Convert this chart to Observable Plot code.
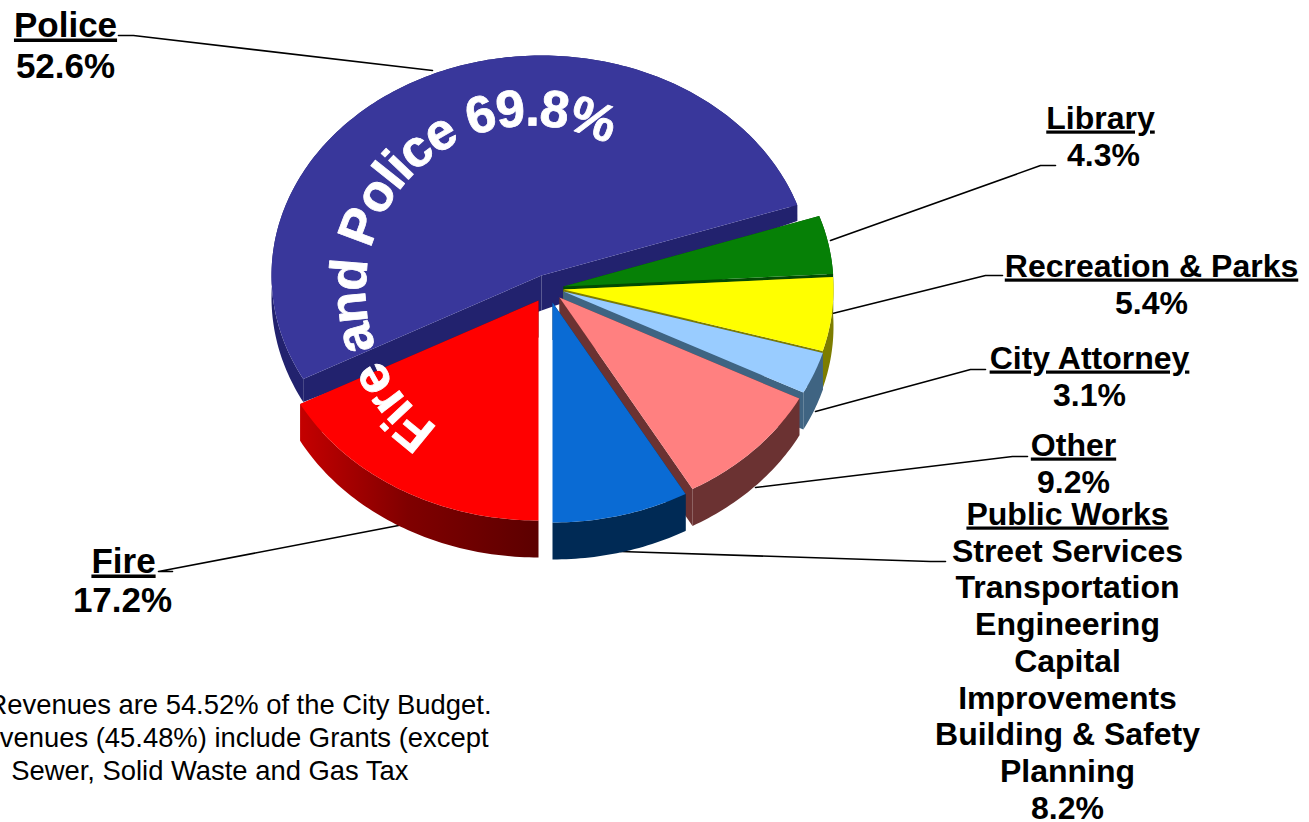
<!DOCTYPE html>
<html>
<head>
<meta charset="utf-8">
<script src="https://cdn.jsdelivr.net/npm/d3@7"></script>
<script src="https://cdn.jsdelivr.net/npm/@observablehq/plot@0.6"></script>
<style>
html,body{margin:0;padding:0;background:#fff;overflow:hidden}
svg{display:block}
</style>
</head>
<body>
<script>
// ---- data, clockwise, starting at the Public Works / Fire boundary
const sliceNames  = ["Fire","Police","Library","Recreation & Parks","City Attorney","Other","Public Works"];
const sliceValues = [17.2,52.6,4.3,5.4,3.1,9.2,8.2];
const sliceColors = ["#ff0000","#39379b","#068006","#ffff00","#99ccff","#ff8080","#0a6bd4"];
const wallColors  = ["url(#redWall)","#22226e","#034a03","#7d7d00","#3f6482","#6b3232","#002a55"];

const headings  = ["Police","Library","Recreation & Parks","City Attorney","Other","Public Works","Fire"];
const shares    = ["52.6%","4.3%","5.4%","3.1%","9.2%","8.2%","17.2%"];
const subItems  = ["Street Services","Transportation","Engineering","Capital","Improvements","Building & Safety","Planning"];
const noteLines = ["Revenues are 54.52% of the City Budget.","venues (45.48%) include Grants (except","Sewer, Solid Waste and Gas Tax"];
const arcTitle  = "Fire and Police 69.8%";

// ---- layout
const W = 1309, H = 822, RX = 270, RY = 220, FONT = "'Liberation Sans', Arial, sans-serif";
const apexX = [538,541,563,563,563,559,552];
const apexY = [300,275,286,289,291,297,302];
const depthStart = [37,23,37,37,37,37,37];
const depthEnd   = [37,16,37,37,37,37,37];
const depthApex  = [37,35,37,37,37,37,37];
const drawOrder  = [1,2,3,4,5,6,0];
const headPos = [[65,36],[1100,128],[1151,276],[1089,368],[1073,455],[1067,524],[123,572]];
const sharePos = [[65,77],[1103,165],[1151,313],[1089,405],[1073,492],[1067,818],[122,611]];
const headSize = [35,32,32,32,32,32,35];
const subY = [561,597,634,671,708,744,781];
const noteEnd = [[491,713],[488,746],[408,779]];
const leaders = [
  [[118,35],[133,35],[432,70]],
  [[1055,165],[1040,165],[830,240]],
  [[1002,275],[985,275],[832,313]],
  [[985,369],[970,369],[815,411]],
  [[1027,456],[1012,456],[755,487]],
  [[945,561],[930,561],[620,551]],
  [[172,571],[158,571],[398,525]]
];

// ---- geometry from the values
const rad = d => d * Math.PI / 180;
let start = 90;
const slices = sliceValues.map((v, i) => {
  const a0 = start, a1 = start + v * 3.6;
  start = a1;
  return {i, a0, a1, cx: apexX[i], cy: apexY[i]};
});
const onRim = (s, a) => [s.cx + RX * Math.cos(rad(a)), s.cy + RY * Math.sin(rad(a))];
const arcAngles = s => d3.range(0, 1.0001, 1 / Math.ceil(s.a1 - s.a0)).map(t => s.a0 + t * (s.a1 - s.a0));
const poly = (pts, key) => pts.map(([x, y]) => ({x, y, key}));

function topOf(s) {
  return poly([[s.cx, s.cy], ...arcAngles(s).map(a => onRim(s, a))], "top" + s.i);
}
function wallOf(s) {
  const i = s.i, ds = depthStart[i], de = depthEnd[i], da = depthApex[i];
  const as = arcAngles(s);
  const dep = a => ds + (de - ds) * (a - s.a0) / (s.a1 - s.a0);
  const upper = as.map(a => onRim(s, a));
  const lower = as.map(a => { const p = onRim(s, a); return [p[0], p[1] + dep(a)]; }).reverse();
  const A = [s.cx, s.cy], B = [s.cx, s.cy + da];
  const p0 = onRim(s, s.a0), p1 = onRim(s, s.a1);
  return [
    ...poly([A, p0, [p0[0], p0[1] + ds], B], "c0" + i),
    ...poly([A, p1, [p1[0], p1[1] + de], B], "c1" + i),
    ...poly([...upper, ...lower], "w" + i)
  ];
}

const x = {domain: [0, W], range: [0, W]};
const y = {domain: [0, H], range: [0, H]};
const marks = [];

// leader lines
leaders.forEach(l => marks.push(Plot.line(l.map(([px, py]) => ({px, py})), {x: "px", y: "py", stroke: "#000", strokeWidth: 1.6})));

// pie
drawOrder.forEach(k => {
  const s = slices[k];
  marks.push(Plot.line(wallOf(s), {x: "x", y: "y", z: "key", fill: wallColors[k], stroke: "none"}));
  marks.push(Plot.line(topOf(s), {x: "x", y: "y", z: "key", fill: sliceColors[k], stroke: "none", title: () => sliceNames[k]}));
});

// labels
const bold = {fontWeight: "bold", textAnchor: "middle", lineAnchor: "bottom", fill: "#000"};
[32, 35].forEach(size => {
  const pick = headSize.map((h, i) => h === size ? i : -1).filter(i => i >= 0);
  marks.push(Plot.text(pick, {...bold, fontSize: size, text: i => headings[i], x: i => headPos[i][0], y: i => headPos[i][1]}));
  marks.push(Plot.text(pick, {...bold, fontSize: size, text: i => shares[i], x: i => sharePos[i][0], y: i => sharePos[i][1]}));
});
marks.push(Plot.text(subItems, {...bold, fontSize: 32, x: () => 1067, y: (d, i) => subY[i]}));
marks.push(Plot.text(noteLines, {fontSize: 27.4, textAnchor: "end", lineAnchor: "bottom", fill: "#000", x: (d, i) => noteEnd[i][0], y: (d, i) => noteEnd[i][1]}));
marks.push(Plot.text([arcTitle], {x: () => 0, y: () => 0, fontWeight: "bold", fontSize: 52, fill: "#fff", stroke: "#fff", strokeWidth: 0.8, textAnchor: "start", lineAnchor: "bottom"}));

const plot = Plot.plot({width: W, height: H, margin: 0, x: {...x, axis: null}, y: {...y, axis: null},
  style: {fontFamily: FONT, background: "#fff"}, marks});

// gradient, underlines and curved baseline for the centre title
const sx = plot.scale("x").apply, sy = plot.scale("y").apply;
const svgSel = d3.select(plot);
const defs = svgSel.insert("defs", ":first-child");
const grad = defs.append("linearGradient").attr("id", "redWall");
[[0, "#c40000"], [0.45, "#800000"], [1, "#5c0000"]].forEach(([o, c]) => grad.append("stop").attr("offset", o).attr("stop-color", c));
const arcLine = d3.line()(d3.range(124, 330, 1).map(a => [sx(530 + 165 * Math.cos(rad(a))), sy(290 + 165 * Math.sin(rad(a)))]));
defs.append("path").attr("id", "arcBase").attr("d", arcLine);
svgSel.selectAll("text").each(function () {
  const el = d3.select(this), s = this.textContent;
  if (headings.includes(s)) el.style("text-decoration", "underline");
  if (s === arcTitle) {
    el.attr("transform", null).text(null).style("letter-spacing", "-1.5px");
    el.append("textPath").attr("href", "#arcBase").text(arcTitle);
  }
});

document.body.appendChild(plot);
</script>
</body>
</html>
